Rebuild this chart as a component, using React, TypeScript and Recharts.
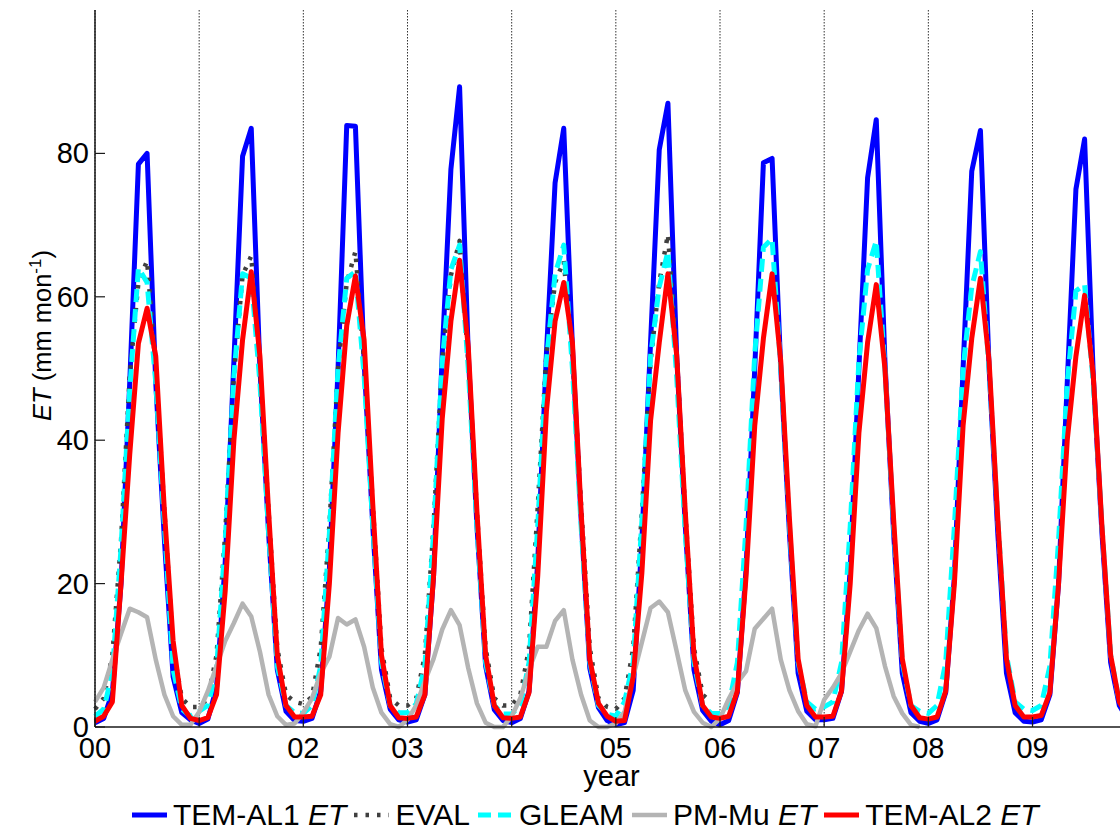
import React from 'react';
import { LineChart, Line, XAxis, YAxis, CartesianGrid, Legend } from 'recharts';

const FONT = '"Liberation Sans", Arial, Helvetica, sans-serif';

const YEAR_TICKS = [0, 12, 24, 36, 48, 60, 72, 84, 96, 108];
const YEAR_LABELS = ['00', '01', '02', '03', '04', '05', '06', '07', '08', '09'];
const Y_TICKS = [0, 20, 40, 60, 80];

// Monthly ET (mm mon-1), Jan 2000 .. Dec 2009
const TEM_AL1 = [
  0.6, 1.2, 4.8, 20, 48, 78.5, 80, 48, 26, 7, 2, 1,
  0.5, 1.1, 5.5, 23, 51, 79.6, 83.5, 50, 27, 8, 2.2, 0.9,
  0.8, 1.2, 5, 22, 50, 83.9, 83.8, 51, 28, 8, 2.5, 1,
  0.7, 1, 4.5, 21, 52, 77.8, 89.3, 52, 28, 8.5, 2.4, 0.9,
  0.6, 1.2, 5, 23, 52, 75.9, 83.5, 53, 29, 8.2, 2.7, 0.9,
  0.3, 0.6, 5.1, 26, 53.6, 80.5, 87, 52, 28, 8, 2.3, 0.8,
  0.3, 0.9, 4.8, 22, 50, 78.7, 79.3, 50, 27, 7.5, 2.2, 1,
  1, 1.2, 5, 22, 50, 76.6, 84.7, 51, 27, 7.5, 2, 0.8,
  0.5, 1, 4.8, 21, 50, 77.5, 83.2, 50, 27, 7.5, 2, 0.8,
  0.7, 1, 4.5, 20, 48, 75, 82, 49, 27, 9, 3, 1,
];

// EVAL covers 2000-2005 only
const EVAL = [
  2.5, 4, 10, 26, 49, 62, 65, 50, 30, 11, 4, 2.8,
  2.8, 4, 10, 27, 49, 63, 65.7, 50, 30, 11, 4.5, 3.5,
  3.2, 4.2, 11, 28, 50, 62, 66.3, 51, 31, 11, 4, 3,
  3, 4, 10, 28, 51, 63, 67.8, 51, 30, 11, 4, 3,
  3, 4.5, 11, 30.6, 52, 62, 65, 52, 31, 11, 4, 2.8,
  2.5, 4, 11, 30, 51, 62, 68.7, 52, 30, 11, 4.5, 3.5,
];

const GLEAM = [
  1.5, 2.5, 7.5, 25, 47, 64, 62, 48, 28, 8, 2.5, 1.5,
  2.2, 3, 8, 26, 49, 63.2, 62.6, 48, 27, 8.5, 3, 2,
  1.9, 3, 8.5, 27, 50, 62.6, 63.5, 49, 28, 9, 3, 2,
  2, 3.2, 8.5, 27, 51, 63.8, 67.2, 50, 28, 9, 3, 1.8,
  1.8, 3, 9, 28, 51, 63.2, 67.2, 50, 28, 9, 3, 1.8,
  1.5, 3.5, 9, 28.7, 51.7, 61.4, 66.3, 49, 27, 9, 3, 1.9,
  1.9, 3, 9, 28, 52, 66.9, 68.1, 50, 28, 9, 3.5, 2.5,
  2.8, 3.5, 9, 28, 51, 63.8, 67.8, 50, 28, 9, 3, 2.2,
  1.9, 3, 9, 28, 50, 61.4, 66.3, 50, 29, 10, 3.5, 2.5,
  2.3, 3, 8.5, 26, 48, 60.8, 61.7, 48, 28, 10, 3.5, 2,
];

// PM-Mu covers 2000-2007 only
const PM_MU = [
  3.5, 5.5, 9.4, 13, 16.5, 16, 15.3, 9.4, 4.5, 1.5, 0.3, 0.3,
  2.1, 5, 8.5, 12, 14.5, 17.2, 15.4, 10.5, 4.5, 1.5, 0.3, 0.5,
  2, 4, 7.5, 9.8, 15.2, 14.3, 15, 11.2, 5.5, 2, 0.4, 0,
  1, 3, 6.4, 9.5, 13.6, 16.3, 14.2, 8.2, 3.3, 0.6, 0, 0,
  1.5, 4, 8, 11.2, 11.2, 14.8, 16.3, 9.4, 4.5, 0.9, 0, 0,
  0.5, 2.1, 7, 11.8, 16.6, 17.5, 16, 10.6, 5.1, 2.1, 0.6, 0,
  1.2, 3.9, 6.2, 7.8, 13.7, 15.1, 16.5, 9.4, 5.1, 2.2, 0.4, 0.1,
  3.8, 5.5, 7.5, 10.5, 13.5, 15.8, 13.8, 8.5, 4.3, 1.9, 0.3, 0,
];

const TEM_AL2 = [
  0.8, 1.5, 3.5, 20, 38, 53.5, 58.4, 51.7, 30, 12, 3, 1.2,
  0.9, 1.3, 4.5, 19, 40, 54, 63.5, 51.7, 30, 10, 3, 1.4,
  1.4, 1.5, 4.5, 20, 41, 56, 62.9, 54, 31, 10, 3, 1.3,
  1.2, 1.4, 4.5, 21, 43, 56.6, 65.1, 53, 30, 10, 3, 1.3,
  1.2, 1.4, 4.8, 21, 44, 56.6, 62, 53.6, 30, 9.4, 3.3, 1.5,
  0.8, 0.9, 7, 21.5, 42.7, 53.6, 63.2, 52, 30, 10, 3, 1.4,
  1.2, 1.5, 5, 21, 42, 54.2, 63.2, 51, 29, 9.5, 3, 1.4,
  1.4, 1.5, 5, 20, 41, 53.6, 61.7, 50, 29, 9.5, 3, 1.3,
  1.1, 1.4, 5, 20, 42, 54.2, 62.6, 51, 29, 9.5, 3, 1.4,
  1.4, 1.6, 4.8, 20, 40, 51.7, 60.2, 49, 28, 10, 3.5, 1.5,
];

const SERIES = [
  { key: 'tem1', name: 'TEM-AL1', italic: 'ET', color: '#0000FF', width: 5, dash: undefined as string | undefined },
  { key: 'eval', name: 'EVAL', italic: '', color: '#404040', width: 4.5, dash: '3.5 8' },
  { key: 'gleam', name: 'GLEAM', italic: '', color: '#00FFFF', width: 5, dash: '13 7' },
  { key: 'pmmu', name: 'PM-Mu', italic: 'ET', color: '#B4B4B4', width: 4.5, dash: undefined },
  { key: 'tem2', name: 'TEM-AL2', italic: 'ET', color: '#FF0000', width: 5, dash: undefined },
];

const data = TEM_AL1.map((v, i) => ({
  i,
  tem1: v,
  eval: i < EVAL.length ? EVAL[i] : null,
  gleam: GLEAM[i],
  pmmu: i < PM_MU.length ? PM_MU[i] : null,
  tem2: TEM_AL2[i],
}));

const AX = '#1a1a1a';
const TICK_LEN = 10;

const BottomTick = (props: any) => {
  const { x, y, payload } = props;
  const idx = YEAR_TICKS.indexOf(payload.value);
  const axisY = y - 8;
  return (
    <g>
      <line x1={x} x2={x} y1={axisY} y2={axisY - TICK_LEN} stroke={AX} strokeWidth={1.2} />
      <text x={x} y={y + 23} textAnchor="middle" fontSize={29} fontFamily={FONT} fill="#000">
        {YEAR_LABELS[idx]}
      </text>
    </g>
  );
};

const TopTick = (props: any) => {
  const { x, y } = props;
  return <line x1={x} x2={x} y1={y} y2={y + TICK_LEN} stroke={AX} strokeWidth={1.2} />;
};

const LeftTick = (props: any) => {
  const { x, y, payload } = props;
  return (
    <g>
      <line x1={x + 6} x2={x + 6 + TICK_LEN} y1={y} y2={y} stroke={AX} strokeWidth={1.2} />
      <text x={x} y={y + 10} textAnchor="end" fontSize={29} fontFamily={FONT} fill="#000">
        {payload.value}
      </text>
    </g>
  );
};

const RightTick = (props: any) => {
  const { x, y } = props;
  return <line x1={x} x2={x - TICK_LEN} y1={y} y2={y} stroke={AX} strokeWidth={1.2} />;
};

const YLabel = (props: any) => {
  const vb = props.viewBox || { x: 0, y: 10, width: 95, height: 717 };
  const cx = vb.x + 51;
  const cy = vb.y + vb.height / 2 - 33;
  return (
    <text
      x={cx}
      y={cy}
      transform={`rotate(-90 ${cx} ${cy})`}
      textAnchor="middle"
      fontSize={25.5}
      fontFamily={FONT}
      fill="#000"
    >
      <tspan fontStyle="italic">ET</tspan>
      <tspan> (mm mon</tspan>
      <tspan dy={-10} fontSize={17}>-1</tspan>
      <tspan dy={10}>)</tspan>
    </text>
  );
};

const XLabel = (props: any) => {
  const vb = props.viewBox || { x: 95, y: 727, width: 1033, height: 105 };
  return (
    <text x={vb.x + vb.width / 2} y={vb.y + 59} textAnchor="middle" fontSize={29} fontFamily={FONT} fill="#000">
      year
    </text>
  );
};

const LegendContent = () => (
  <div style={{ display: 'flex', alignItems: 'center', paddingLeft: 132, fontFamily: FONT, fontSize: 30, lineHeight: '36px', color: '#000', whiteSpace: 'nowrap' }}>
    {SERIES.map((s) => (
      <div key={s.key} style={{ display: 'flex', alignItems: 'center', marginRight: 8 }}>
        <svg width={35} height={10} style={{ marginRight: 6, overflow: 'visible' }}>
          <line x1={0} x2={35} y1={5} y2={5} stroke={s.color} strokeWidth={s.width} strokeDasharray={s.dash} />
        </svg>
        <span>
          {s.name}
          {s.italic ? <span>{' '}<i>{s.italic}</i></span> : null}
        </span>
      </div>
    ))}
  </div>
);

export default function App() {
  return (
    <div style={{ position: 'absolute', left: 0, top: 0, width: 1120, height: 832, overflow: 'hidden', background: '#fff' }}>
      <LineChart width={1140} height={832} data={data} margin={{ top: 10, right: 0, bottom: 0, left: 0 }}>
        <CartesianGrid xAxisId="b" yAxisId="l" horizontal={false} vertical stroke="#333" strokeWidth={1} strokeDasharray="1.5 1.5" />
        <XAxis
          xAxisId="b"
          dataKey="i"
          type="number"
          domain={[0, 119]}
          ticks={YEAR_TICKS}
          interval={0}
          height={105}
          tickSize={0}
          tickMargin={8}
          tick={<BottomTick />}
          axisLine={{ stroke: AX, strokeWidth: 1.5 }}
          tickLine={false}
          label={<XLabel />}
        />
        <XAxis
          xAxisId="t"
          orientation="top"
          dataKey="i"
          type="number"
          domain={[0, 119]}
          ticks={YEAR_TICKS}
          interval={0}
          height={0}
          tickSize={0}
          tickMargin={0}
          tick={<TopTick />}
          axisLine={{ stroke: AX, strokeWidth: 1.5 }}
          tickLine={false}
        />
        <YAxis
          yAxisId="l"
          type="number"
          domain={[0, 100]}
          ticks={Y_TICKS}
          interval={0}
          width={95}
          tickSize={0}
          tickMargin={6}
          tick={<LeftTick />}
          axisLine={{ stroke: AX, strokeWidth: 1.5 }}
          tickLine={false}
          label={<YLabel />}
        />
        <YAxis
          yAxisId="r"
          orientation="right"
          type="number"
          domain={[0, 100]}
          ticks={Y_TICKS}
          interval={0}
          width={12}
          tickSize={0}
          tickMargin={0}
          tick={<RightTick />}
          axisLine={{ stroke: AX, strokeWidth: 1.5 }}
          tickLine={false}
        />
        {SERIES.map((s) => (
          <Line
            key={s.key}
            xAxisId="b"
            yAxisId="l"
            type="linear"
            dataKey={s.key}
            name={s.name}
            stroke={s.color}
            strokeWidth={s.width}
            strokeDasharray={s.dash}
            dot={false}
            activeDot={false}
            isAnimationActive={false}
            connectNulls={false}
            strokeLinejoin="round"
          />
        ))}
        <Legend
          layout="horizontal"
          verticalAlign="middle"
          align="center"
          content={<LegendContent />}
          wrapperStyle={{ top: 797, left: 0, width: 1140 }}
        />
      </LineChart>
    </div>
  );
}
